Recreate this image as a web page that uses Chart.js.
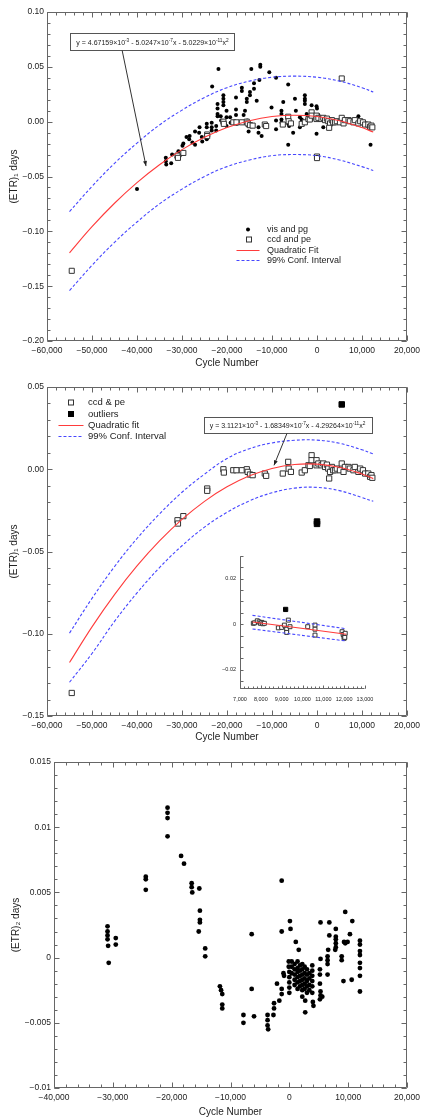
<!DOCTYPE html>
<html>
<head>
<meta charset="utf-8">
<script src="https://cdn.jsdelivr.net/npm/chart.js@4.4.0/dist/chart.umd.min.js"></script>
<style>
  body { margin: 0; background: #fff; width: 421px; height: 1120px; position: relative; overflow: hidden; }
  canvas { position: absolute; left: 0; }
</style>
</head>
<body>
<canvas id="c1" width="421" height="375" style="top:0"></canvas>
<canvas id="c2" width="421" height="370" style="top:375px"></canvas>
<canvas id="inset" width="165" height="160" style="left:210px;top:548px"></canvas>
<canvas id="c3" width="421" height="375" style="top:745px"></canvas>
<script>
// ---- data ----
const visPg = [
  [-40000,-0.0615],
  [-33600,-0.033],[-33600,-0.036],[-33500,-0.039],[-32400,-0.038],[-32200,-0.030],[-31200,-0.033],[-30800,-0.027],[-30500,-0.031],
  [-29900,-0.022],[-29700,-0.020],[-29000,-0.014],[-28400,-0.016],[-28300,-0.013],[-27700,-0.019],[-27100,-0.009],[-27100,-0.021],
  [-26200,-0.010],[-26100,-0.005],[-25600,-0.014],[-25500,-0.018],
  [-24500,-0.002],[-24500,-0.005],[-24500,-0.016],[-23400,-0.001],[-23400,-0.005],[-23400,-0.008],[-23300,0.032],
  [-22400,-0.004],[-22400,-0.008],[-22100,0.016],[-22100,0.012],[-22100,0.007],[-22100,0.005],[-21900,0.048],
  [-21400,0.005],[-21300,0.001],[-20800,0.024],[-20800,0.021],[-20800,0.018],[-20800,0.015],
  [-20100,0.010],[-20100,0.004],[-20100,-0.004],[-19300,0.004],[-19200,-0.001],
  [-18000,0.022],[-18000,0.011],[-18000,0.006],[-17800,-0.002],
  [-16700,0.031],[-16700,0.028],[-16300,0.006],[-16000,0.010],[-15600,0.021],[-15600,0.018],[-15500,0.001],[-15300,-0.004],[-15200,-0.009],
  [-14900,0.027],[-14900,0.024],[-14000,0.035],[-14000,0.030],[-13400,0.019],[-13000,-0.005],[-13000,-0.010],
  [-12800,0.038],[-14600,0.048],[-12300,-0.013],[-12600,0.052],[-12600,0.050],[-10600,0.045],
  [-9100,0.040],[-6400,0.034],[-7500,0.018],[-10100,0.013],[-4900,0.021],
  [-2700,0.024],[-2700,0.021],[-2700,0.019],[-2700,0.016],[-1200,0.015],[-100,0.014],[0,0.012],
  [-4700,0.010],[-7900,0.010],[-7900,0.007],[-7900,0.002],[-7900,-0.001],
  [-3800,0.004],[-3400,0.002],[-2300,0.007],[-2200,0.002],[-9100,0.001],[-9100,-0.007],
  [-6400,-0.002],[-6200,-0.004],[-3800,-0.005],[-5300,-0.010],[-100,-0.011],[-6400,-0.021],
  [1400,-0.005],[9200,0.005],[11900,-0.021],[300,0.006],[300,0.002],[-1200,0.002]
];

const ccdPe = [
  [-54500,-0.136],
  [-31000,-0.031],[-30900,-0.033],[-29700,-0.0285],
  [-24400,-0.0117],[-24400,-0.0131],
  [-20800,0.0],[-20700,-0.002],[-18600,-0.0006],[-17900,-0.0006],
  [-16700,-0.0006],[-15600,0.0],[-15400,-0.0016],[-14900,-0.0032],[-14300,-0.0036],
  [-11600,-0.0026],[-11300,-0.004],[-7600,-0.0026],
  [-6400,0.0045],[-6300,0.0004],[-5800,-0.0016],[-3400,-0.002],[-2700,-0.0006],
  [-1900,0.0024],[-1600,0.002],[-1200,0.0085],[-1200,0.0055],
  [-100,0.0055],[-100,0.0024],[300,0.0035],[1000,0.0024],[1400,0.0035],
  [1800,0.0014],[2200,0.0028],[2500,0.0004],[2900,-0.0016],[2700,-0.0056],
  [3300,0.0014],[3600,-0.0006],[4000,-0.0006],[4400,0.0004],
  [5100,-0.0006],[5500,0.0035],[5900,-0.0016],[6200,0.0014],
  [7000,0.0014],[7300,0.0004],[8100,-0.0006],[8400,0.0014],
  [9200,-0.0016],[9600,0.0004],[10200,-0.0006],[10700,-0.0026],
  [11400,-0.0026],[11800,-0.0046],[12100,-0.0036],[12300,-0.0052]
];
const ccdOutliers = [[5500,0.0394],[0,-0.0318],[0,-0.0332]];

const fitX = [-55000,-50000,-45000,-40000,-35000,-30000,-25000,-20000,-15000,-10000,-5000,0,5000,10000,12500];
const fit1 = [-0.1196,-0.0958,-0.0744,-0.0556,-0.0393,-0.0255,-0.0142,-0.0054,0.0009,0.0047,0.0059,0.0047,0.0009,-0.0054,-0.0095];
const up1  = [-0.082,-0.059,-0.038,-0.0195,-0.003,0.0105,0.022,0.031,0.037,0.0405,0.0415,0.0405,0.037,0.031,0.027];
const lo1  = [-0.154,-0.131,-0.110,-0.0915,-0.075,-0.0615,-0.050,-0.041,-0.035,-0.031,-0.030,-0.031,-0.035,-0.041,-0.0445];
const fit2 = [-0.1175,-0.0958,-0.0762,-0.0588,-0.0436,-0.0305,-0.0195,-0.0107,-0.0040,0.0005,0.0029,0.0031,0.0012,-0.0029,-0.0057];
const up2  = [-0.0996,-0.0785,-0.0592,-0.0421,-0.0272,-0.0140,-0.0030,0.0065,0.0125,0.0160,0.0176,0.0177,0.0158,0.0118,0.0093];
const lo2  = [-0.1295,-0.112,-0.0925,-0.0752,-0.0598,-0.0465,-0.0352,-0.0262,-0.0192,-0.0143,-0.0115,-0.0110,-0.0130,-0.0172,-0.0195];

const insetCcd = [
  [7640,0.0004],[7700,0.0006],[7830,0.0015],[7920,0.001],[7980,0.0004],[8050,0.0008],[8100,0.0002],[8170,0.0004],
  [8840,-0.0016],[9000,-0.0014],[9130,-0.0004],[9240,-0.0022],[9240,-0.0036],[9320,0.0018],[9400,-0.0011],
  [10250,-0.0011],[10600,-0.0004],[10600,-0.0022],[10600,-0.0048],
  [11900,-0.0033],[11950,-0.0045],[12000,-0.0055],[12000,-0.0062],[12050,-0.0040],[12030,-0.0058]
];
const insetOutliers = [[9190,0.0065]];
const insetX   = [7600, 12100];
const insetFit = [0.0010, -0.0044];
const insetUp  = [0.0039, -0.0020];
const insetLo  = [-0.0021, -0.0074];

const etr2 = [
  [-30900,0.0024],[-30900,0.0020],[-30900,0.0017],[-30900,0.0014],[-30800,0.0009],[-30700,-0.0004],[-29500,0.0015],[-29500,0.0010],
  [-24400,0.0062],[-24400,0.0060],[-24400,0.0052],
  [-20700,0.0115],[-20700,0.0111],[-20700,0.0107],[-20700,0.0093],
  [-18400,0.0078],[-17900,0.0072],
  [-16600,0.0057],[-16600,0.0054],[-16500,0.0050],[-15300,0.0053],
  [-15200,0.0036],[-15200,0.0029],[-15200,0.0027],[-15400,0.0020],
  [-14300,0.0007],[-14300,0.0001],
  [-11800,-0.0022],[-11600,-0.0025],[-11400,-0.0028],[-11400,-0.0036],[-11400,-0.0039],
  [-7800,-0.0044],[-7800,-0.0050],[-6000,-0.0045],[-6400,-0.0024],[-6400,0.0018],
  [-3700,-0.0044],[-3700,-0.0048],[-3700,-0.0052],[-3600,-0.0055],
  [-2600,-0.0035],[-2600,-0.0039],[-2700,-0.0044],[-2100,-0.0020],[-1700,-0.0033],
  [-1300,0.0059],[-1300,0.0020],[-1300,-0.0024],[-1300,-0.0028],
  [-1000,-0.0012],[-900,-0.0014],[100,0.0028],[200,0.0022],
  [-100,-0.0003],[-100,-0.0007],[0,-0.0011],[0,-0.0015],[0,-0.0019],[0,-0.0023],[0,-0.0027],
  [1100,0.0012],[1600,0.0006],
  [400,-0.0003],[400,-0.0007],[400,-0.0012],
  [900,-0.0005],[900,-0.0009],[900,-0.0013],[900,-0.0017],[900,-0.0021],
  [1400,-0.0003],[1400,-0.0008],[1400,-0.0011],[1400,-0.0015],[1400,-0.0019],[1400,-0.0024],
  [1800,-0.0006],[1800,-0.0010],[1800,-0.0014],[1800,-0.0018],[1800,-0.0022],
  [2200,-0.0005],[2200,-0.0009],[2200,-0.0013],[2200,-0.0017],[2200,-0.0021],[2200,-0.0025],[2200,-0.0030],
  [2600,-0.0007],[2600,-0.0012],[2600,-0.0016],[2600,-0.0020],[2600,-0.0024],[2700,-0.0033],[2700,-0.0042],
  [3000,-0.0009],[3000,-0.0013],[3000,-0.0018],[3000,-0.0022],[3000,-0.0027],
  [3400,-0.0012],[3400,-0.0016],[3400,-0.0021],[3400,-0.0025],
  [3900,-0.0006],[3900,-0.0010],[3900,-0.0014],[3900,-0.0018],[3900,-0.0022],[3900,-0.0027],[4000,-0.0034],[4100,-0.0037],
  [5200,-0.0009],[5200,-0.0013],[5200,-0.0020],[5300,-0.0026],[5300,-0.0029],[5200,-0.0032],[5300,-0.0001],[5300,0.0027],[5600,-0.0030],
  [6500,0.0001],[6500,-0.0002],[6500,-0.0005],[6500,-0.0013],[6600,0.0006],[6800,0.0027],[6800,0.0017],
  [7900,0.0022],[7900,0.0016],[7900,0.0014],[7900,0.0011],[7900,0.0008],[7800,0.0006],
  [8900,0.0001],[8900,-0.0002],[9300,0.0012],[9500,0.0011],[9200,-0.0018],[9500,0.0035],[9900,0.0012],
  [10300,0.0018],[10700,0.0028],[10600,-0.0017],
  [12000,0.0013],[12000,0.0010],[12000,0.0005],[12000,0.0002],[12000,-0.0004],[12000,-0.0008],[12000,-0.0014],[12000,-0.0026]
];

const legend1 = ['vis and pg', 'ccd and pe', 'Quadratic Fit', '99% Conf. Interval'];
const legend2 = ['ccd & pe', 'outliers', 'Quadratic fit', '99% Conf. Interval'];
const eq1 = 'y = 4.67159×10^{-3} - 5.0247×10^{-7}x - 5.0229×10^{-11}x^{2}';
const eq2 = 'y = 3.1121×10^{-3} - 1.68349×10^{-7}x - 4.29264×10^{-11}x^{2}';

// ---- helpers ----
const FONT = '"Liberation Sans", Arial, sans-serif';
const MINUS = '\u2212';
const RED = '#ff3b3b';
const BLUE = '#4646ff';
const AXIS = '#666';

const pts = a => a.map(([x, y]) => ({ x, y }));
const curve = (xs, ys) => xs.map((x, i) => ({ x, y: ys[i] }));

function fmtX(v) { return v === 0 ? '0' : (v < 0 ? MINUS : '') + Math.abs(v).toLocaleString('en-US'); }
function fmtY2(v) { return Math.abs(v) < 1e-9 ? '0.00' : (v < 0 ? MINUS : '') + Math.abs(v).toFixed(2); }
function fmtY3(v) { return Math.abs(v) < 1e-9 ? '0' : (v < 0 ? MINUS : '') + String(+Math.abs(v).toFixed(3)); }

function richText(ctx, str, x, y, size) {
  const parts = str.split(/\^\{([^}]*)\}/);
  const big = size + 'px ' + FONT, small = (size * 0.68) + 'px ' + FONT;
  let w = 0;
  parts.forEach((p, i) => { ctx.font = i % 2 ? small : big; w += ctx.measureText(p).width; });
  let cx = x - w / 2;
  parts.forEach((p, i) => {
    ctx.font = i % 2 ? small : big;
    ctx.fillText(p, cx, i % 2 ? y - size * 0.38 : y);
    cx += ctx.measureText(p).width;
  });
  return w;
}

// box with inward ticks
const frame = {
  id: 'frame',
  afterDraw(chart, args, o) {
    const { ctx, chartArea: a, scales: { x, y } } = chart;
    ctx.save();
    ctx.strokeStyle = AXIS;
    ctx.lineWidth = 1;
    ctx.beginPath();
    const L = Math.round(a.left) + 0.5, R = Math.round(a.right) - 0.5, T = Math.round(a.top) + 0.5, B = Math.round(a.bottom) - 0.5;
    if (o.box) ctx.rect(L, T, R - L, B - T);
    else { ctx.moveTo(L, T); ctx.lineTo(L, B); ctx.lineTo(R, B); }
    const marks = (scale, step, len) => {
      for (let i = Math.ceil(scale.min / step - 1e-6); i * step <= scale.max + step * 1e-6; i++) {
        const p = Math.round(scale.getPixelForValue(i * step)) + 0.5;
        if (scale.axis === 'x') {
          ctx.moveTo(p, B); ctx.lineTo(p, B - len);
          if (o.box) { ctx.moveTo(p, T); ctx.lineTo(p, T + len); }
        } else {
          ctx.moveTo(L, p); ctx.lineTo(L + len, p);
          if (o.box) { ctx.moveTo(R, p); ctx.lineTo(R - len, p); }
        }
      }
    };
    marks(x, o.xMinor, o.minorLen);
    marks(x, o.xMajor, o.majorLen);
    marks(y, o.yMinor, o.minorLen);
    marks(y, o.yMajor, o.majorLen);
    ctx.stroke();
    ctx.restore();
  }
};

// equation box with arrow
const annot = {
  id: 'annot',
  afterDraw(chart, args, o) {
    if (!o.text) return;
    const { ctx, scales: { x, y } } = chart;
    const cx = x.getPixelForValue(o.at[0]), cy = y.getPixelForValue(o.at[1]);
    ctx.save();
    ctx.fillStyle = '#222';
    ctx.textBaseline = 'middle';
    const w = richText(ctx, o.text, -1000, -1000, o.size) + 2 * o.padX;
    ctx.fillStyle = '#fff';
    ctx.fillRect(cx - w / 2, cy - o.h / 2, w, o.h);
    ctx.strokeStyle = '#555';
    ctx.lineWidth = 1;
    ctx.strokeRect(Math.round(cx - w / 2) + 0.5, Math.round(cy - o.h / 2) + 0.5, Math.round(w), o.h);
    ctx.fillStyle = '#222';
    richText(ctx, o.text, cx, cy + 1, o.size);
    const x0 = x.getPixelForValue(o.tail[0]), y0 = y.getPixelForValue(o.tail[1]);
    const x1 = x.getPixelForValue(o.tip[0]), y1 = y.getPixelForValue(o.tip[1]);
    ctx.strokeStyle = '#333';
    ctx.beginPath(); ctx.moveTo(x0, y0); ctx.lineTo(x1, y1); ctx.stroke();
    const ang = Math.atan2(y1 - y0, x1 - x0);
    ctx.fillStyle = '#222';
    ctx.beginPath();
    ctx.moveTo(x1, y1);
    ctx.lineTo(x1 - 5 * Math.cos(ang) + 2 * Math.sin(ang), y1 - 5 * Math.sin(ang) - 2 * Math.cos(ang));
    ctx.lineTo(x1 - 5 * Math.cos(ang) - 2 * Math.sin(ang), y1 - 5 * Math.sin(ang) + 2 * Math.cos(ang));
    ctx.closePath(); ctx.fill();
    ctx.restore();
  }
};

// legend drawn inside the plot
const keyBox = {
  id: 'keyBox',
  afterDraw(chart, args, o) {
    if (!o.items) return;
    const { ctx, scales: { x, y } } = chart;
    const px = x.getPixelForValue(o.at[0]), py = y.getPixelForValue(o.at[1]);
    ctx.save();
    ctx.font = o.size + 'px ' + FONT;
    ctx.textBaseline = 'middle';
    o.items.forEach((it, i) => {
      const yy = Math.round(py + i * o.gap) + 0.5;
      ctx.lineWidth = 1;
      ctx.setLineDash([]);
      if (it.kind === 'dot') {
        ctx.fillStyle = '#000'; ctx.beginPath(); ctx.arc(px, yy, 2, 0, Math.PI * 2); ctx.fill();
      } else if (it.kind === 'sq') {
        ctx.strokeStyle = '#333'; ctx.strokeRect(Math.round(px - 2.5) + 0.5, Math.round(yy - 3), 5, 5);
      } else if (it.kind === 'fsq') {
        ctx.fillStyle = '#000'; ctx.fillRect(Math.round(px - 3), Math.round(yy - 3.5), 6, 6);
      } else {
        ctx.strokeStyle = it.kind === 'line' ? RED : BLUE;
        if (it.kind === 'dash') ctx.setLineDash([3, 2]);
        ctx.beginPath(); ctx.moveTo(px - o.half, yy); ctx.lineTo(px + o.half, yy); ctx.stroke();
      }
      ctx.fillStyle = '#222';
      ctx.fillText(it.label, px + o.textDx, yy);
    });
    ctx.restore();
  }
};

function scatterSet(data, style) {
  return Object.assign({ data: pts(data), borderWidth: 1 }, style);
}
function lineSet(xs, ys, color, dashed) {
  return { data: curve(xs, ys), showLine: true, pointRadius: 0, borderColor: color, borderWidth: 1.1,
           borderDash: dashed ? [3, 2] : [], tension: 0.4, fill: false };
}

function options(p) {
  return {
    responsive: false, animation: false, devicePixelRatio: 1, events: [],
    layout: { padding: { top: p.top, right: p.right, left: 0, bottom: 0 } },
    plugins: { legend: { display: false }, tooltip: { enabled: false },
               frame: p.frame, annot: p.annot || {}, keyBox: p.key || {} },
    scales: {
      x: {
        type: 'linear', min: p.x[0], max: p.x[1],
        grid: { display: false, drawTicks: false }, border: { display: false },
        ticks: { stepSize: p.xStep, autoSkip: false, maxRotation: 0, padding: p.xPad, color: '#222',
                 font: { family: FONT, size: p.tick }, callback: p.fmtX || fmtX },
        title: { display: !!p.xTitle, text: p.xTitle, color: '#222', font: { family: FONT, size: 10 },
                 padding: { top: 0, bottom: p.xTitlePad || 0 } },
        afterFit(s) { s.height = p.xH; s.paddingLeft = 0; s.paddingRight = 0; }
      },
      y: {
        type: 'linear', min: p.y[0], max: p.y[1],
        grid: { display: false, drawTicks: false }, border: { display: false },
        ticks: { stepSize: p.yStep, autoSkip: false, padding: p.yPad, color: '#222', includeBounds: false,
                 font: { family: FONT, size: p.tick }, callback: p.fmtY },
        title: { display: !!p.yTitle, text: p.yTitle, color: '#222', font: { family: FONT, size: 10 },
                 padding: { top: p.yTitlePad || 0, bottom: 0 } },
        afterFit(s) { s.width = p.yW; s.paddingTop = 0; s.paddingBottom = 0; }
      }
    }
  };
}

const mainFrame = { box: true, xMajor: 10000, xMinor: 2000, yMajor: 0.05, yMinor: 0.01, majorLen: 5, minorLen: 3 };

// ---- panel 1 ----
new Chart(document.getElementById('c1'), {
  type: 'scatter',
  data: { datasets: [
    lineSet(fitX, fit1, RED, false),
    lineSet(fitX, up1, BLUE, true),
    lineSet(fitX, lo1, BLUE, true),
    scatterSet(ccdPe.concat(ccdOutliers), { pointStyle: 'rect', pointRadius: 3.6, backgroundColor: '#fff', borderColor: '#333' }),
    scatterSet(visPg, { pointStyle: 'circle', pointRadius: 2, backgroundColor: '#000', borderWidth: 0 })
  ] },
  options: options({
    top: 12, right: 14, x: [-60000, 20000], y: [-0.2, 0.1], xStep: 10000, yStep: 0.05,
    tick: 8.5, xPad: 5, yPad: 3, xH: 34, yW: 47, fmtY: fmtY2,
    xTitle: 'Cycle Number', xTitlePad: 6, yTitle: '(ETR)\u2081 days', yTitlePad: 8,
    frame: mainFrame,
    annot: { text: eq1, at: [-36556, 0.0727], size: 7, h: 17, padX: 6, tail: [-43300, 0.065], tip: [-38000, -0.0405] },
    key: { at: [-15333, -0.0979], gap: 10.4, size: 9, half: 11.5, textDx: 19, items: [
      { label: legend1[0], kind: 'dot' }, { label: legend1[1], kind: 'sq' },
      { label: legend1[2], kind: 'line' }, { label: legend1[3], kind: 'dash' }] }
  }),
  plugins: [frame, annot, keyBox]
});

// ---- panel 2 ----
new Chart(document.getElementById('c2'), {
  type: 'scatter',
  data: { datasets: [
    lineSet(fitX, fit2, RED, false),
    lineSet(fitX, up2, BLUE, true),
    lineSet(fitX, lo2, BLUE, true),
    scatterSet(ccdOutliers, { pointStyle: 'rect', pointRadius: 3.9, backgroundColor: '#000', borderColor: '#000' }),
    scatterSet(ccdPe, { pointStyle: 'rect', pointRadius: 3.7, backgroundColor: '#fff', borderColor: '#333' })
  ] },
  options: options({
    top: 12, right: 14, x: [-60000, 20000], y: [-0.15, 0.05], xStep: 10000, yStep: 0.05,
    tick: 8.5, xPad: 5, yPad: 3, xH: 29, yW: 47, fmtY: fmtY2,
    xTitle: 'Cycle Number', xTitlePad: 2, yTitle: '(ETR)\u2081 days', yTitlePad: 8,
    frame: mainFrame,
    annot: { text: eq2, at: [-6555, 0.0267], size: 7, h: 16, padX: 6, tail: [-6667, 0.0218], tip: [-9556, 0.0024] },
    key: { at: [-54667, 0.0406], gap: 11.3, size: 9.5, half: 12.5, textDx: 17, items: [
      { label: legend2[0], kind: 'sq' }, { label: legend2[1], kind: 'fsq' },
      { label: legend2[2], kind: 'line' }, { label: legend2[3], kind: 'dash' }] }
  }),
  plugins: [frame, annot, keyBox]
});

// ---- inset ----
new Chart(document.getElementById('inset'), {
  type: 'scatter',
  data: { datasets: [
    lineSet(insetX, insetFit, RED, false),
    lineSet(insetX, insetUp, BLUE, true),
    lineSet(insetX, insetLo, BLUE, true),
    scatterSet(insetOutliers, { pointStyle: 'rect', pointRadius: 3, backgroundColor: '#000', borderColor: '#000' }),
    scatterSet(insetCcd, { pointStyle: 'rect', pointRadius: 2.8, backgroundColor: '#fff', borderColor: '#333' })
  ] },
  options: options({
    top: 8, right: 10, x: [7000, 13000], y: [-0.0285, 0.03], xStep: 1000, yStep: 0.005,
    tick: 5.5, xPad: 7, yPad: 4, xH: 19, yW: 30,
    fmtY: v => Math.abs(v / 0.02 - Math.round(v / 0.02)) < 1e-6 ? fmtY3(v) : '',
    frame: { box: false, xMajor: 1000, xMinor: 200, yMajor: 0.005, yMinor: 0.005, majorLen: 3, minorLen: 2 }
  }),
  plugins: [frame]
});

// ---- panel 3 ----
new Chart(document.getElementById('c3'), {
  type: 'scatter',
  data: { datasets: [
    scatterSet(etr2, { pointStyle: 'circle', pointRadius: 2.4, backgroundColor: '#000', borderWidth: 0 })
  ] },
  options: options({
    top: 17, right: 14, x: [-40000, 20000], y: [-0.01, 0.015], xStep: 10000, yStep: 0.005,
    tick: 8.5, xPad: 5, yPad: 3, xH: 32, yW: 54, fmtY: fmtY3,
    xTitle: 'Cycle Number', xTitlePad: 2, yTitle: '(ETR)\u2082 days', yTitlePad: 10,
    frame: { box: true, xMajor: 10000, xMinor: 2000, yMajor: 0.005, yMinor: 0.001, majorLen: 5, minorLen: 3 }
  }),
  plugins: [frame]
});
</script>
</body>
</html>
